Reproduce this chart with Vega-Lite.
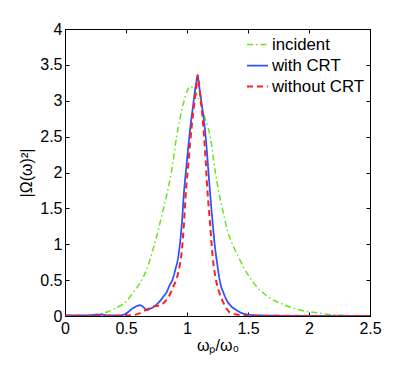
{
  "$schema": "https://vega.github.io/schema/vega-lite/v6.json",
  "width": 305,
  "height": 287,
  "autosize": {"type": "none"},
  "padding": {"left": 65, "top": 29, "right": 39, "bottom": 53},
  "background": "white",
  "config": {
    "font": "Liberation Sans",
    "view": {"stroke": "black", "strokeWidth": 1},
    "axis": {
      "grid": false,
      "domainColor": "black",
      "tickColor": "black",
      "tickSize": -4,
      "labelFlush": false,
      "labelColor": "black",
      "labelFontSize": 16,
      "labelFont": "Liberation Sans",
      "titleFont": "Liberation Sans",
      "titleFontSize": 16,
      "titleFontWeight": "normal",
      "titleColor": "black"
    }
  },
  "data": {
    "values": [
      {"s": "incident", "x": 0, "y": 0},
      {"s": "incident", "x": 0.15, "y": 0.003},
      {"s": "incident", "x": 0.25, "y": 0.015},
      {"s": "incident", "x": 0.3, "y": 0.03},
      {"s": "incident", "x": 0.35, "y": 0.06},
      {"s": "incident", "x": 0.4, "y": 0.1},
      {"s": "incident", "x": 0.45, "y": 0.14},
      {"s": "incident", "x": 0.5, "y": 0.2},
      {"s": "incident", "x": 0.56, "y": 0.33},
      {"s": "incident", "x": 0.615, "y": 0.46},
      {"s": "incident", "x": 0.67, "y": 0.65},
      {"s": "incident", "x": 0.72, "y": 0.92},
      {"s": "incident", "x": 0.75, "y": 1.1},
      {"s": "incident", "x": 0.79, "y": 1.38},
      {"s": "incident", "x": 0.833, "y": 1.68},
      {"s": "incident", "x": 0.874, "y": 2.03},
      {"s": "incident", "x": 0.915, "y": 2.5},
      {"s": "incident", "x": 0.97, "y": 2.96},
      {"s": "incident", "x": 1.0, "y": 3.13},
      {"s": "incident", "x": 1.03, "y": 3.2},
      {"s": "incident", "x": 1.06, "y": 3.15},
      {"s": "incident", "x": 1.09, "y": 3.05},
      {"s": "incident", "x": 1.11, "y": 2.96},
      {"s": "incident", "x": 1.15, "y": 2.75},
      {"s": "incident", "x": 1.19, "y": 2.5},
      {"s": "incident", "x": 1.23, "y": 2.03},
      {"s": "incident", "x": 1.257, "y": 1.76},
      {"s": "incident", "x": 1.3, "y": 1.42},
      {"s": "incident", "x": 1.335, "y": 1.17},
      {"s": "incident", "x": 1.38, "y": 0.97},
      {"s": "incident", "x": 1.42, "y": 0.83},
      {"s": "incident", "x": 1.46, "y": 0.69},
      {"s": "incident", "x": 1.51, "y": 0.55},
      {"s": "incident", "x": 1.57, "y": 0.41},
      {"s": "incident", "x": 1.64, "y": 0.3},
      {"s": "incident", "x": 1.71, "y": 0.22},
      {"s": "incident", "x": 1.79, "y": 0.16},
      {"s": "incident", "x": 1.87, "y": 0.11},
      {"s": "incident", "x": 1.96, "y": 0.07},
      {"s": "incident", "x": 2.06, "y": 0.045},
      {"s": "incident", "x": 2.15, "y": 0.025},
      {"s": "incident", "x": 2.25, "y": 0.012},
      {"s": "incident", "x": 2.35, "y": 0.005},
      {"s": "incident", "x": 2.5, "y": 0.001},
      {"s": "with CRT", "x": 0, "y": 0.01},
      {"s": "with CRT", "x": 0.2, "y": 0.01},
      {"s": "with CRT", "x": 0.26, "y": 0.02},
      {"s": "with CRT", "x": 0.3, "y": 0.02},
      {"s": "with CRT", "x": 0.34, "y": 0.01},
      {"s": "with CRT", "x": 0.46, "y": 0.01},
      {"s": "with CRT", "x": 0.505, "y": 0.04},
      {"s": "with CRT", "x": 0.55, "y": 0.1},
      {"s": "with CRT", "x": 0.59, "y": 0.14},
      {"s": "with CRT", "x": 0.615, "y": 0.15},
      {"s": "with CRT", "x": 0.645, "y": 0.12},
      {"s": "with CRT", "x": 0.67, "y": 0.08},
      {"s": "with CRT", "x": 0.695, "y": 0.1},
      {"s": "with CRT", "x": 0.72, "y": 0.12},
      {"s": "with CRT", "x": 0.75, "y": 0.16},
      {"s": "with CRT", "x": 0.78, "y": 0.21},
      {"s": "with CRT", "x": 0.81, "y": 0.28},
      {"s": "with CRT", "x": 0.833, "y": 0.33},
      {"s": "with CRT", "x": 0.855, "y": 0.42},
      {"s": "with CRT", "x": 0.88, "y": 0.5},
      {"s": "with CRT", "x": 0.905, "y": 0.65},
      {"s": "with CRT", "x": 0.929, "y": 0.83},
      {"s": "with CRT", "x": 0.945, "y": 1.05},
      {"s": "with CRT", "x": 0.958, "y": 1.29},
      {"s": "with CRT", "x": 0.975, "y": 1.72},
      {"s": "with CRT", "x": 0.992, "y": 2.03},
      {"s": "with CRT", "x": 1.019, "y": 2.5},
      {"s": "with CRT", "x": 1.052, "y": 2.96},
      {"s": "with CRT", "x": 1.075, "y": 3.25},
      {"s": "with CRT", "x": 1.087, "y": 3.34},
      {"s": "with CRT", "x": 1.1, "y": 3.2},
      {"s": "with CRT", "x": 1.12, "y": 2.96},
      {"s": "with CRT", "x": 1.153, "y": 2.5},
      {"s": "with CRT", "x": 1.175, "y": 2.03},
      {"s": "with CRT", "x": 1.19, "y": 1.7},
      {"s": "with CRT", "x": 1.21, "y": 1.3},
      {"s": "with CRT", "x": 1.23, "y": 0.95},
      {"s": "with CRT", "x": 1.25, "y": 0.7},
      {"s": "with CRT", "x": 1.27, "y": 0.48},
      {"s": "with CRT", "x": 1.3, "y": 0.32},
      {"s": "with CRT", "x": 1.325, "y": 0.22},
      {"s": "with CRT", "x": 1.36, "y": 0.14},
      {"s": "with CRT", "x": 1.407, "y": 0.08},
      {"s": "with CRT", "x": 1.45, "y": 0.04},
      {"s": "with CRT", "x": 1.5, "y": 0.02},
      {"s": "with CRT", "x": 1.6, "y": 0.008},
      {"s": "with CRT", "x": 1.8, "y": 0.003},
      {"s": "with CRT", "x": 2.5, "y": 0},
      {"s": "without CRT", "x": 0, "y": 0.005},
      {"s": "without CRT", "x": 0.45, "y": 0.005},
      {"s": "without CRT", "x": 0.55, "y": 0.01},
      {"s": "without CRT", "x": 0.615, "y": 0.04},
      {"s": "without CRT", "x": 0.67, "y": 0.09},
      {"s": "without CRT", "x": 0.72, "y": 0.13},
      {"s": "without CRT", "x": 0.78, "y": 0.15},
      {"s": "without CRT", "x": 0.83, "y": 0.22},
      {"s": "without CRT", "x": 0.86, "y": 0.3},
      {"s": "without CRT", "x": 0.89, "y": 0.42},
      {"s": "without CRT", "x": 0.915, "y": 0.52},
      {"s": "without CRT", "x": 0.94, "y": 0.7},
      {"s": "without CRT", "x": 0.956, "y": 0.88},
      {"s": "without CRT", "x": 0.975, "y": 1.29},
      {"s": "without CRT", "x": 0.992, "y": 1.76},
      {"s": "without CRT", "x": 1.01, "y": 2.1},
      {"s": "without CRT", "x": 1.025, "y": 2.4},
      {"s": "without CRT", "x": 1.052, "y": 2.85},
      {"s": "without CRT", "x": 1.074, "y": 3.15},
      {"s": "without CRT", "x": 1.088, "y": 3.36},
      {"s": "without CRT", "x": 1.1, "y": 3.2},
      {"s": "without CRT", "x": 1.12, "y": 2.9},
      {"s": "without CRT", "x": 1.148, "y": 2.3},
      {"s": "without CRT", "x": 1.167, "y": 1.76},
      {"s": "without CRT", "x": 1.189, "y": 1.29},
      {"s": "without CRT", "x": 1.21, "y": 0.83},
      {"s": "without CRT", "x": 1.243, "y": 0.46},
      {"s": "without CRT", "x": 1.27, "y": 0.3},
      {"s": "without CRT", "x": 1.3, "y": 0.18},
      {"s": "without CRT", "x": 1.325, "y": 0.1},
      {"s": "without CRT", "x": 1.35, "y": 0.05},
      {"s": "without CRT", "x": 1.41, "y": 0.02},
      {"s": "without CRT", "x": 1.49, "y": 0.005},
      {"s": "without CRT", "x": 2.5, "y": 0}
    ]
  },
  "layer": [
    {
      "mark": {"type": "line", "interpolate": "monotone", "clip": true},
      "encoding": {
        "x": {
          "field": "x", "type": "quantitative",
          "scale": {"domain": [0, 2.5], "nice": false, "zero": false},
          "axis": {"values": [0, 0.5, 1, 1.5, 2, 2.5], "labelExpr": "'' + datum.value", "labelPadding": 8, "title": "ωₚ/ω₀", "titlePadding": 1}
        },
        "y": {
          "field": "y", "type": "quantitative",
          "scale": {"domain": [0, 4], "nice": false},
          "axis": {"values": [0, 0.5, 1, 1.5, 2, 2.5, 3, 3.5, 4], "labelExpr": "'' + datum.value", "labelPadding": 7, "title": "|Ω(ω)²|", "titlePadding": 5}
        },
        "color": {
          "field": "s", "type": "nominal",
          "scale": {"domain": ["incident", "with CRT", "without CRT"], "range": ["#66e61a", "#3050ff", "#ff2020"]},
          "legend": {
            "title": null, "orient": "none", "legendX": 181, "legendY": 4,
            "symbolType": "stroke", "symbolSize": 440, "labelFontSize": 16.8, "labelFont": "Liberation Sans", "labelColor": "black",
            "rowPadding": 0, "labelOffset": 3, "padding": 0
          }
        },
        "strokeDash": {
          "field": "s", "type": "nominal",
          "scale": {"domain": ["incident", "with CRT", "without CRT"], "range": [[6, 3, 1.5, 3], [1, 0], [6, 4]]},
          "legend": {
            "title": null, "orient": "none", "legendX": 181, "legendY": 4,
            "symbolType": "stroke", "symbolSize": 440, "labelFontSize": 16.8, "labelFont": "Liberation Sans", "labelColor": "black",
            "rowPadding": 0, "labelOffset": 3, "padding": 0
          }
        },
        "strokeWidth": {
          "field": "s", "type": "nominal",
          "scale": {"domain": ["incident", "with CRT", "without CRT"], "range": [1.5, 2, 2.5]},
          "legend": {
            "title": null, "orient": "none", "legendX": 181, "legendY": 4,
            "symbolType": "stroke", "symbolSize": 440, "labelFontSize": 16.8, "labelFont": "Liberation Sans", "labelColor": "black",
            "rowPadding": 0, "labelOffset": 3, "padding": 0
          }
        }
      }
    },
    {
      "mark": {"type": "point", "opacity": 0},
      "encoding": {
        "x": {
          "field": "x", "type": "quantitative",
          "scale": {"domain": [0, 2.5], "nice": false, "zero": false},
          "axis": {"orient": "top", "values": [0, 0.5, 1, 1.5, 2, 2.5], "labels": false, "title": null}
        },
        "y": {
          "field": "y", "type": "quantitative",
          "scale": {"domain": [0, 4], "nice": false},
          "axis": {"orient": "right", "values": [0, 0.5, 1, 1.5, 2, 2.5, 3, 3.5, 4], "labels": false, "title": null}
        }
      }
    }
  ],
  "resolve": {"axis": {"x": "independent", "y": "independent"}}
}
